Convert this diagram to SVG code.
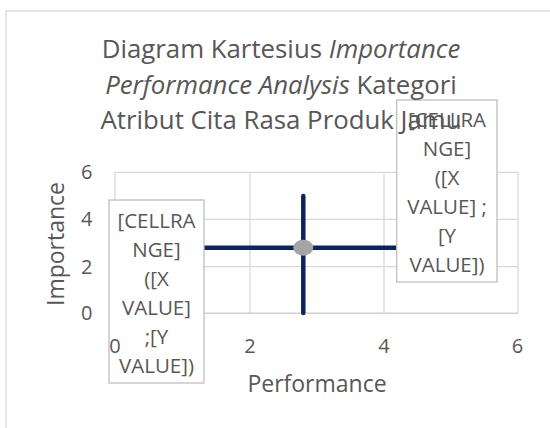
<svg xmlns="http://www.w3.org/2000/svg" width="550" height="428" viewBox="0 0 550 428">
<style>
text{font-family:"Open Sans","Liberation Sans",sans-serif;fill:#575757}
.t{font-size:25.8px;text-anchor:middle}
.tick{font-size:20px;text-anchor:middle}
.ax{font-size:23px;text-anchor:middle}
.lbl{font-size:20.5px;text-anchor:middle}
.grid{stroke:#D9D9D9;stroke-width:1.3;fill:none}
.box{fill:#fff;stroke:#BFBFBF;stroke-width:1.3}
.err{stroke:#0B2460;stroke-width:4.5;stroke-linecap:round;fill:none}
</style>
<rect width="550" height="428" fill="#fff"/>
<rect id="chart-area" x="6" y="11" width="570" height="450" fill="#fff" stroke="#D9D9D9" stroke-width="1.3"/>
<g id="gridlines">
<path class="grid" d="M115,172.3H518M115,219.3H518M115,266.7H518M115,172.3V313.3M250,172.3V313.3M384,172.3V313.3M518,172.3V313.3"/>
<path d="M115,313.3H518" stroke="#D0D0D0" stroke-width="1.5"/>
</g>
<g id="connectors">
<line class="err" x1="303.3" y1="196" x2="303.3" y2="313"/>
<line class="err" x1="160" y1="247.7" x2="440" y2="247.7"/>
</g>
<g id="point">
<ellipse cx="303.3" cy="247.7" rx="10" ry="8" fill="#A5A5A5"/>
</g>
<g id="label-left">
<rect class="box" x="109" y="200" width="95" height="183"/>
</g>
<g id="label-right">
<rect class="box" x="396.7" y="100" width="100.3" height="182"/>
</g>
<g id="y-ticks">
<text class="tick" x="86.7" y="179.3">6</text>
<text class="tick" x="86.7" y="226.3">4</text>
<text class="tick" x="86.7" y="273.7">2</text>
<text class="tick" x="86.7" y="320.3">0</text>
</g>
<g id="x-ticks">
<text class="tick" x="115" y="352.7">0</text>
<text class="tick" x="250" y="352.7">2</text>
<text class="tick" x="384" y="352.7">4</text>
<text class="tick" x="517.5" y="352.7">6</text>
</g>
<g id="title">
<text class="t" x="281" y="58.3">Diagram Kartesius <tspan font-style="italic">Importance</tspan></text>
<text class="t" x="281" y="93.8"><tspan font-style="italic">Performance Analysis</tspan> Kategori</text>
<text class="t" x="281" y="129.3">Atribut Cita Rasa Produk Jamu</text>
</g>
<g id="axis-titles">
<text class="ax" x="317" y="391.7">Performance</text>
<text class="ax" transform="translate(64,244) rotate(-90)">Importance</text>
</g>
<g id="label-left-text">
<text class="lbl" x="156.5" y="227.7">[CELLRA</text>
<text class="lbl" x="156.5" y="256.7">NGE]</text>
<text class="lbl" x="156.5" y="285.7">([X</text>
<text class="lbl" x="156.5" y="314.7">VALUE]</text>
<text class="lbl" x="156.5" y="343.7">;[Y</text>
<text class="lbl" x="156.5" y="372.7">VALUE])</text>
</g>
<g id="label-right-text">
<text class="lbl" x="447" y="126.7">[CELLRA</text>
<text class="lbl" x="447" y="155.7">NGE]</text>
<text class="lbl" x="447" y="184.7">([X</text>
<text class="lbl" x="447" y="213.7">VALUE] ;</text>
<text class="lbl" x="447" y="242.7">[Y</text>
<text class="lbl" x="447" y="271.7">VALUE])</text>
</g>
</svg>
